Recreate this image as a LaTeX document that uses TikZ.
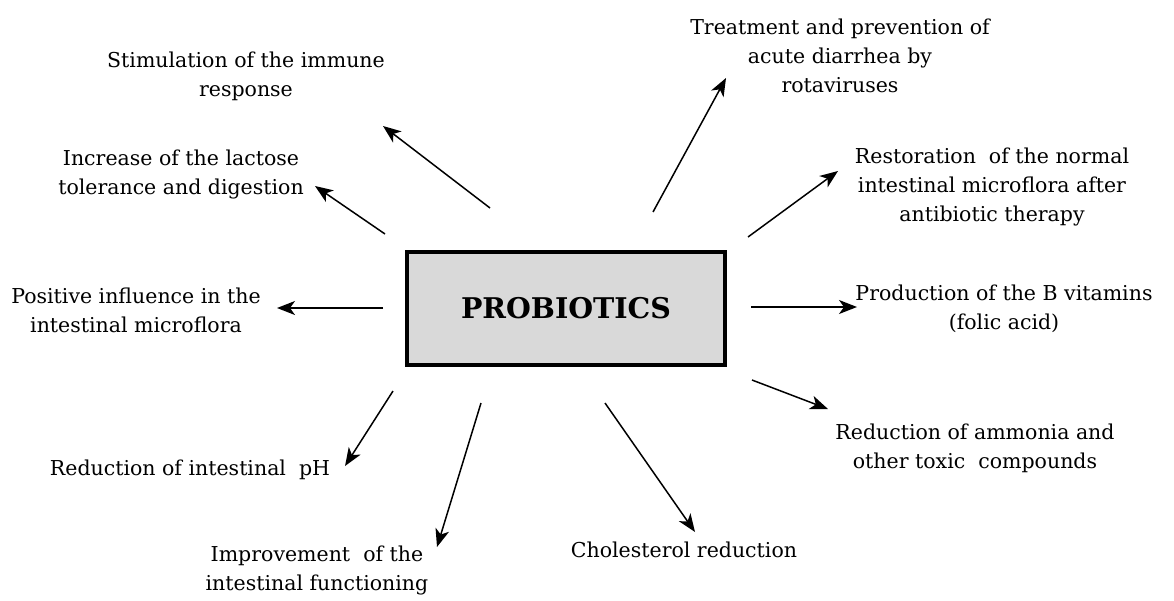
\documentclass[tikz,border=0pt]{standalone}
\usepackage{fontspec}
\setmainfont{DejaVu Serif}
\usetikzlibrary{arrows.meta}

\begin{document}
\begin{tikzpicture}[
    x=1pt,y=-1pt,
    box/.style={draw,line width=4pt,rectangle,fill=gray!30,minimum width=318pt,minimum height=113pt,
        font=\fontsize{28.5}{30}\selectfont\bfseries},
    t/.style={align=center,inner sep=0pt,font=\fontsize{20.5}{29}\selectfont},
    a/.style={-{Stealth[length=18pt,width=14pt,inset=5pt]},line width=1.5pt},
]

    \useasboundingbox (0,0) rectangle (1174,600);

    \node[box] (P) at (566,308) {PROBIOTICS};

    \node[t] (immune) at (246,76) {Stimulation of the immune\\response};
    \node[t] (lactose) at (181,174) {Increase of the lactose\\tolerance and digestion};
    \node[t] (flora) at (136,310) {Positive influence in the\\intestinal microflora};
    \node[t] (ph) at (190,470) {Reduction of intestinal\ \ pH};
    \node[t] (funct) at (317,570) {Improvement\ \ of the\\intestinal functioning};
    \node[t] (chol) at (684,550) {Cholesterol reduction};
    \node[t] (ammon) at (975,448) {Reduction of ammonia and\\other toxic\ \ compounds};
    \node[t] (vitam) at (1004,309) {Production of the B vitamins\\(folic acid)};
    \node[t] (restor) at (992,187) {Restoration\ \ of the normal\\intestinal microflora after\\antibiotic therapy};
    \node[t] (rota) at (840,56) {Treatment and prevention of\\acute diarrhea by\\rotaviruses};

    % arrow ends
    \coordinate (s1) at (490,208);  \coordinate (e1) at (383,126);
    \coordinate (s2) at (385,234);  \coordinate (e2) at (315,186);
    \coordinate (s3) at (383,308);  \coordinate (e3) at (277,308);
    \coordinate (s4) at (393,391);  \coordinate (e4) at (345,466);
    \coordinate (s5) at (481,403);  \coordinate (e5) at (437,547);
    \coordinate (s6) at (605,403);  \coordinate (e6) at (695,532);
    \coordinate (s7) at (752,380);  \coordinate (e7) at (828,409);
    \coordinate (s8) at (751,307);  \coordinate (e8) at (857,307);
    \coordinate (s9) at (748,237);  \coordinate (e9) at (838,171);
    \coordinate (s10) at (653,212); \coordinate (e10) at (726,78);

    \foreach \i in {1,...,10}
        \draw[a] (s\i) -- (e\i);

\end{tikzpicture}
\end{document}
